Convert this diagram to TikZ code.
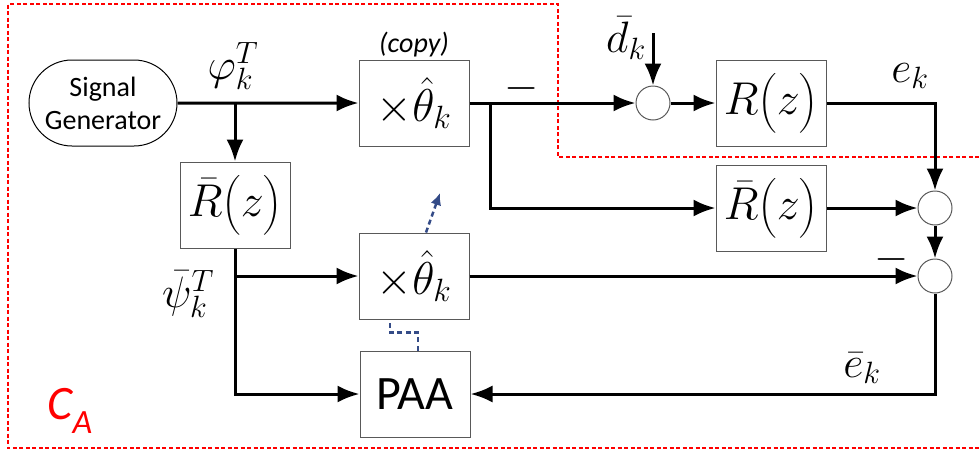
\documentclass[tikz,border=0pt]{standalone}
\usepackage{fix-cm}
\usepackage{amsmath}
\usepackage{fontspec}
\setsansfont{Carlito}
\usepackage{tikz}
\usetikzlibrary{arrows.meta,shapes}

\tikzset{
  block/.style = {draw=black!65, line width=1pt, minimum width=110pt, minimum height=86pt, inner sep=0pt,
                  font=\fontsize{46}{50}\selectfont},
  sumnode/.style = {circle, draw=black!65, line width=1pt, minimum size=34pt, inner sep=0pt},
  wire/.style = {line width=3pt},
  sig/.style = {wire, -{Latex[length=22pt,width=17pt]}},
  adapt/.style = {draw={rgb,255:red,52;green,75;blue,135}, line width=2.5pt, dash pattern=on 5pt off 3.5pt},
  lbl/.style = {font=\fontsize{44}{48}\selectfont, inner sep=0pt},
}

\begin{document}
\begin{tikzpicture}[x=1pt,y=-1pt]
\useasboundingbox (0,0) rectangle (979,453);
% controller boundary
\draw[red, line width=2pt, dash pattern=on 4pt off 2.5pt] (979,157) -- (558,157) -- (558,4) -- (8,4) -- (8,448) -- (979,448);
\node[red, font=\sffamily\itshape\fontsize{48}{52}\selectfont, inner sep=0pt] (CA) at (70,411)
  {C\raisebox{-0.28em}{\fontsize{34}{36}\selectfont A}};

% blocks
\node[rounded rectangle, draw=black, line width=1pt, minimum width=148pt, minimum height=86pt, inner sep=0pt,
      align=center, font=\sffamily\fontsize{28}{33}\selectfont] (gen) at (103,103) {Signal\\Generator};
\node[block] (theta1) at (414,103) {$\times\hat{\theta}_k$};
\node[block] (Rbar1) at (235,205) {$\bar{R}\bigl(z\bigr)$};
\node[block] (theta2) at (414,276) {$\times\hat{\theta}_k$};
\node[block, font=\sffamily\fontsize{48}{52}\selectfont] (PAA) at (415,394) {PAA};
\node[block] (R) at (771,103) {$R\bigl(z\bigr)$};
\node[block] (Rbar2) at (771,208) {$\bar{R}\bigl(z\bigr)$};
\node[sumnode] (sum1) at (653,103) {};
\node[sumnode] (sum2) at (935,208) {};
\node[sumnode] (sum3) at (935,276) {};

% branch points
\coordinate (split1) at (235,103);
\coordinate (split2) at (490,103);
\coordinate (split3) at (235,276);
\coordinate (dtop) at (653,33);
\coordinate (adapt tip) at (440,193);

% signals
\draw[sig] (gen) -- (theta1);
\draw[sig] (split1) -- (Rbar1);
\draw[sig] (theta1) -- (sum1);
\draw[sig] (split2) |- (Rbar2);
\draw[sig] (dtop) -- (sum1);
\draw[sig] (sum1) -- (R);
\draw[sig] (R) -| (sum2);
\draw[sig] (Rbar2) -- (sum2);
\draw[sig] (sum2) -- (sum3);
\draw[sig] (Rbar1.south) |- (PAA.west);
\draw[sig] (split3) -- (theta2);
\draw[sig] (theta2) -- (sum3);
\draw[sig] (sum3.south) |- (PAA.east);

% parameter adaptation
\draw[adapt] ([xshift=3pt]PAA.north) -- ++(0,-18) -| ([xshift=-24pt]theta2.south);
\draw[adapt, -{Latex[length=12pt,width=11pt]}] ([xshift=12pt]theta2.north) -- (adapt tip);

% labels
\node[font=\sffamily\itshape\fontsize{28}{32}\selectfont, inner sep=0pt] (copy) at (414,45) {(copy)};
\node[lbl] (phi) at (233,66) {$\varphi_k^T$};
\node[lbl] (minus1) at (522,88) {$-$};
\node[lbl] (dbar) at (626,38) {$\bar{d}_k$};
\node[lbl] (ek) at (910,76) {$e_k$};
\node[lbl] (minus2) at (892,259) {$-$};
\node[lbl] (psibar) at (188,294) {$\bar{\psi}_k^T$};
\node[lbl] (ebar) at (862,368) {$\bar{e}_k$};
\end{tikzpicture}
\end{document}
